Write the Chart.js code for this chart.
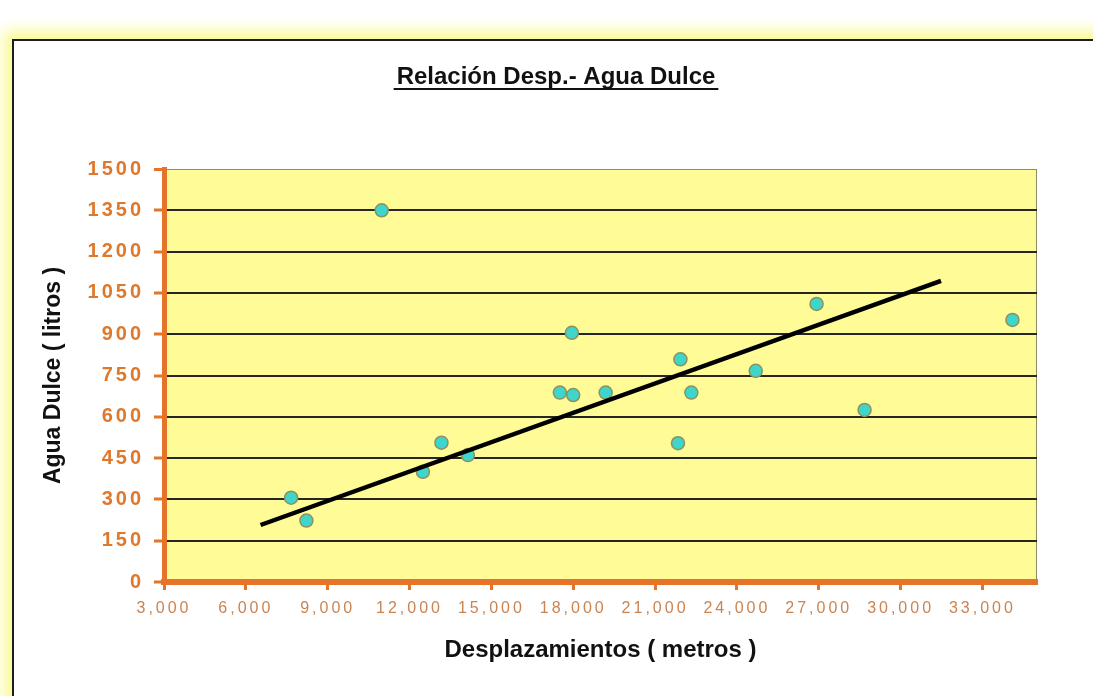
<!DOCTYPE html>
<html lang="es">
<head>
<meta charset="utf-8">
<title>Relación Desp.- Agua Dulce</title>
<script src="https://cdn.jsdelivr.net/npm/chart.js@4/dist/chart.umd.min.js"></script>
<style>
  html, body { margin: 0; padding: 0; background: #fff; }
  body { width: 1093px; height: 696px; position: relative; overflow: hidden; }
  /* marco del gráfico con el halo amarillo */
  #marco {
    position: absolute; left: 12px; top: 39px; width: 1120px; height: 720px;
    border: 2px solid #1d1d1d; background: #fff;
    box-shadow: 0 0 14px 8px #fafa92;
  }
  #grafico { position: absolute; left: 0; top: 0; }
</style>
</head>
<body>
<div id="marco"></div>
<canvas id="grafico" width="1093" height="696"></canvas>
<script>
// desplazamientos (metros) y agua dulce consumida (litros)
const desplazamientos = [7660, 8220, 10980, 12490, 13170, 14140, 17510, 18000, 17950, 19190, 21930, 22330, 21840, 24690, 26920, 28680, 34100];
const aguaDulce       = [306,  223,  1350,  400,   506,   461,   688,   679,   905,   688,   809,   688,   504,   767,   1010,  625,   952];

// recta de tendencia, extremos
const tendenciaX = [6540, 31480];
const tendenciaY = [207, 1094];

// marcas de los ejes
const ticksX = [3000, 6000, 9000, 12000, 15000, 18000, 21000, 24000, 27000, 30000, 33000];
const ticksY = [0, 150, 300, 450, 600, 750, 900, 1050, 1200, 1350, 1500];

const NARANJA = '#E5732A';
const FUENTE = '"Liberation Sans", Arial, sans-serif';

// fondo amarillo del área de trazado + borde fino
const fondoArea = {
  id: 'fondoArea',
  beforeDraw(chart) {
    const { ctx, chartArea: a } = chart;
    ctx.save();
    ctx.fillStyle = '#FFFB96';
    ctx.fillRect(a.left, a.top, a.right - a.left, a.bottom - a.top);
    ctx.strokeStyle = '#8d8d62';
    ctx.lineWidth = 1;
    ctx.strokeRect(a.left + 0.5, a.top + 0.5, a.right - a.left - 1, a.bottom - a.top);
    ctx.restore();
  }
};

// espaciado entre letras de las etiquetas de los ejes
const etiquetasEspaciadas = {
  id: 'etiquetasEspaciadas',
  afterLayout(chart) {
    [['x', '3px'], ['y', '3px']].forEach(([id, sp]) => {
      const scale = chart.scales[id];
      if (!scale || scale._espaciado) return;
      const original = scale.drawLabels;
      scale.drawLabels = function (area) {
        this.ctx.save();
        this.ctx.letterSpacing = sp;
        original.call(this, area);
        this.ctx.restore();
      };
      scale._espaciado = true;
    });
  }
};

// título subrayado
const titulo = {
  id: 'titulo',
  afterDraw(chart) {
    const ctx = chart.ctx;
    const texto = 'Relación Desp.- Agua Dulce';
    const cx = 556, base = 84;
    ctx.save();
    ctx.font = 'bold 24px ' + FUENTE;
    ctx.fillStyle = '#111';
    ctx.textAlign = 'center';
    ctx.textBaseline = 'alphabetic';
    ctx.fillText(texto, cx, base);
    const w = ctx.measureText(texto).width;
    ctx.fillRect(cx - w / 2 - 3, base + 4, w + 6, 2);
    ctx.restore();
  }
};

new Chart(document.getElementById('grafico'), {
  type: 'scatter',
  data: {
    datasets: [
      {
        label: 'Tendencia',
        data: tendenciaX.map((x, i) => ({ x, y: tendenciaY[i] })),
        showLine: true,
        borderColor: '#000',
        borderWidth: 4.5,
        pointRadius: 0,
        order: 0
      },
      {
        label: 'Agua Dulce',
        data: desplazamientos.map((x, i) => ({ x, y: aguaDulce[i] })),
        pointRadius: 6.5,
        pointBackgroundColor: '#3ED6CB',
        pointBorderColor: '#8C9160',
        pointBorderWidth: 1.5,
        order: 1
      }
    ]
  },
  options: {
    responsive: false,
    animation: false,
    layout: { padding: { left: 0, top: 169, right: 56, bottom: 0 } },
    plugins: { legend: { display: false }, tooltip: { enabled: false } },
    scales: {
      x: {
        type: 'linear',
        min: 3000,
        max: 35000,
        afterBuildTicks: s => { s.ticks = ticksX.map(v => ({ value: v })); },
        afterFit: s => { s.height = 114; },
        border: { color: NARANJA, width: 6 },
        grid: { drawOnChartArea: false, tickColor: NARANJA, tickLength: 8, tickWidth: 3 },
        ticks: {
          color: '#C98452',
          font: { family: FUENTE, size: 16 },
          padding: 9,
          maxRotation: 0,
          autoSkip: false,
          callback: v => v.toLocaleString('en-US')
        },
        title: {
          display: true,
          text: 'Desplazamientos ( metros )',
          color: '#111',
          font: { family: FUENTE, size: 24, weight: 'bold' },
          padding: { top: 0, bottom: 31 }
        }
      },
      y: {
        type: 'linear',
        min: 0,
        max: 1500,
        afterBuildTicks: s => { s.ticks = ticksY.map(v => ({ value: v })); },
        afterFit: s => { s.width = 164; },
        border: { color: NARANJA, width: 5 },
        grid: {
          color: c => c.tick && c.tick.value === 1500 ? '#8d8d62' : '#262626',
          lineWidth: c => c.tick && c.tick.value === 1500 ? 1 : 2,
          tickColor: NARANJA,
          tickLength: 10,
          tickWidth: 3
        },
        ticks: {
          color: '#E0782C',
          font: { family: FUENTE, size: 20, weight: 'bold' },
          padding: 10,
          autoSkip: false,
          callback: v => String(v)
        },
        title: {
          display: true,
          text: 'Agua Dulce ( litros )',
          color: '#111',
          font: { family: FUENTE, size: 23, weight: 'bold' },
          padding: { top: 40, bottom: 0 }
        }
      }
    }
  },
  plugins: [fondoArea, etiquetasEspaciadas, titulo]
});
</script>
</body>
</html>
